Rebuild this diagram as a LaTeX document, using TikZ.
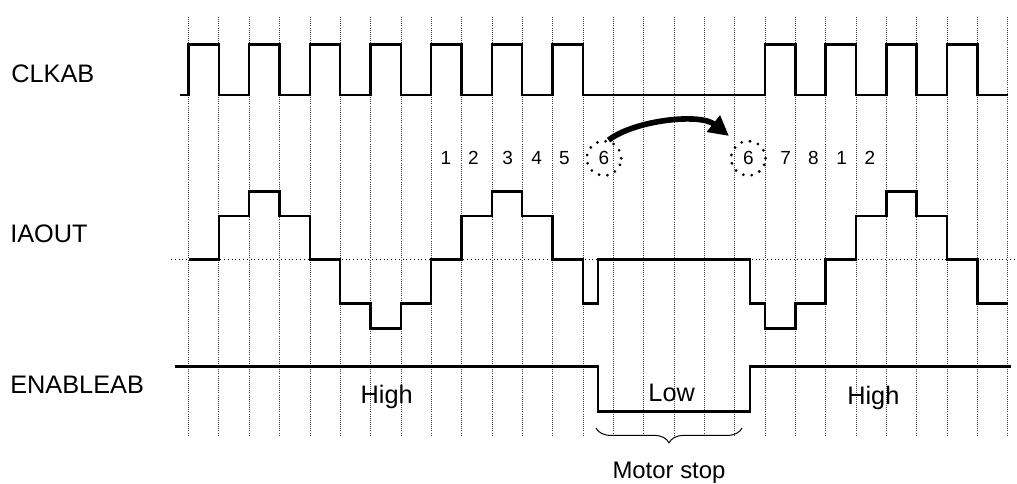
\documentclass[tikz,border=0pt]{standalone}
\usepackage{fontspec}
\setmainfont{Liberation Sans}
\usepackage{tikz}
\usetikzlibrary{arrows.meta, decorations.pathreplacing}
\tikzstyle{signal} = [line width=1.8pt, line join=miter]
\tikzstyle{gridline} = [densely dotted, line width=0.5pt, black!75]
\tikzstyle{zeroline} = [dotted, line width=0.7pt]
\tikzstyle{siglabel} = [anchor=base west, inner sep=0pt,
    font=\fontsize{18}{20}\selectfont]
\tikzstyle{levellabel} = [anchor=base, inner sep=0pt,
    font=\fontsize{18}{20}\selectfont]
\tikzstyle{stepnum} = [anchor=base, inner sep=0pt,
    font=\fontsize{13.5}{15}\selectfont]
\tikzstyle{ring} = [circle, draw, line width=2.2pt, dash pattern=on 0pt off 6pt,
    line cap=round, minimum size=0.86cm, inner sep=0pt,
    font=\fontsize{13.5}{15}\selectfont]
\tikzstyle{jump} = [line width=4pt, -{Triangle[length=5mm, width=5mm]}]

\begin{document}
\begin{tikzpicture}[x=0.025cm, y=-0.025cm]
  \useasboundingbox (0,0) rectangle (1017,484);

  % signal names
  \node (clk) [siglabel] at (11,83) {CLKAB};
  \node (iaout) [siglabel] at (10,243) {IAOUT};
  \node (enable) [siglabel] at (10,393) {ENABLEAB};

  % waveforms, x in clock half periods
  \begin{scope}[shift={(188.5,0)}, x=0.75825cm]
    \foreach \i in {0,...,27}
      \draw[gridline] (\i,17) -- (\i,436);
    \draw[zeroline] (-0.58,259.3) -- (27.25,259.3);

    % CLKAB
    \draw[signal] (-0.28,95) \foreach \k in {0,2,...,12} {
        -- (\k,95) -- (\k,44.7) -- (\k+1,44.7) -- (\k+1,95) }
      \foreach \k in {19,21,...,25} {
        -- (\k,95) -- (\k,44.7) -- (\k+1,44.7) -- (\k+1,95) }
      -- (27,95);

    % IAOUT
    \draw[signal] (0,259.3) \foreach \x/\v in {1/216,2/191.3,3/216,4/259.3,
        5/303.3,6/328.7,7/303.3,8/259.3,9/216,10/191.3,11/216,12/259.3,
        13/303.3,13.5/259.3,18.5/303.3,19/328.7,20/303.3,21/259.3,22/216,
        23/191.3,24/216,25/259.3,26/303.3} { -| (\x,\v) }
      -- (27,303.3);

    % ENABLEAB
    \draw[signal] (-0.445,366.7) -| (13.5,411.3) -| (18.5,366.7) -- (27.1,366.7);
  \end{scope}

  \node (high1) [levellabel] at (386.7,403.3) {High};
  \node (low)   [levellabel] at (671.7,401) {Low};
  \node (high2) [levellabel] at (873.3,404) {High};

  % step counter
  \node (n1) [stepnum] at (446,165) {1};
  \node (n2) [stepnum] at (473.3,165) {2};
  \node (n3) [stepnum] at (507.7,165) {3};
  \node (n4) [stepnum] at (536.7,165) {4};
  \node (n5) [stepnum] at (564.3,165) {5};
  \node (six1) [ring] at (604,158.3) {6};
  \node (six2) [ring] at (748.3,158.3) {6};
  \node (n7) [stepnum] at (785.7,165) {7};
  \node (n8) [stepnum] at (813.3,165) {8};
  \node (m1) [stepnum] at (841.7,165) {1};
  \node (m2) [stepnum] at (870,165) {2};

  \coordinate (hold) at (729,136);
  \draw[jump] (six1.76) .. controls (635,120) and (700,113) .. (hold);

  % motor stop brace
  \coordinate (stopL) at (596,428);
  \coordinate (stopR) at (742,428);
  \draw[line width=0.7pt, decorate, decoration={brace, mirror, amplitude=0.37cm}]
    (stopL) -- (stopR);
  \node (stop) [levellabel, font=\fontsize{17}{19}\selectfont] at (669,478.3) {Motor stop};
\end{tikzpicture}
\end{document}
